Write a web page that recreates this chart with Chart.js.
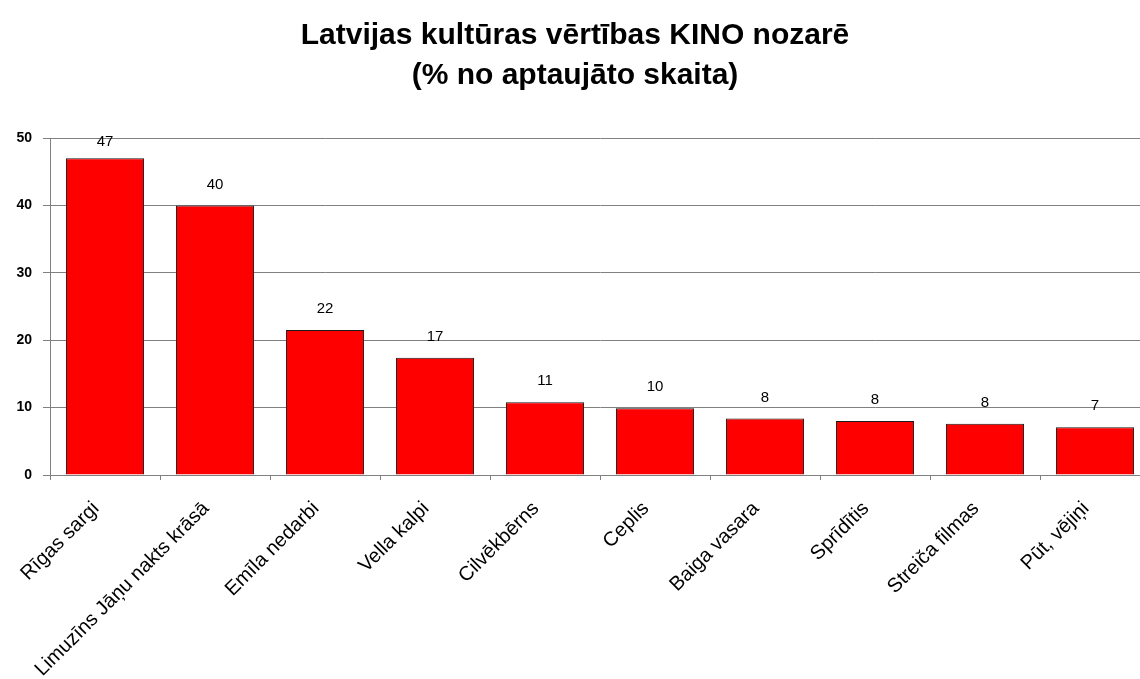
<!DOCTYPE html>
<html>
<head>
<meta charset="utf-8">
<script src="https://cdn.jsdelivr.net/npm/chart.js@4/dist/chart.umd.min.js"></script>
<style>
  html, body { margin: 0; padding: 0; background: #fff; overflow: hidden; }
  #wrap { width: 1150px; height: 679px; position: relative; }
</style>
</head>
<body>
<div id="wrap"><canvas id="c"></canvas></div>
<script>
const titleLines = ["Latvijas kultūras vērtības KINO nozarē", "(% no aptaujāto skaita)"];
const categories = ["Rīgas sargi", "Limuzīns Jāņu nakts krāsā", "Emīla nedarbi", "Vella kalpi", "Cilvēkbērns", "Ceplis", "Baiga vasara", "Sprīdītis", "Streiča filmas", "Pūt, vējiņi"];
const values = [47, 40, 21.5, 17.4, 10.8, 9.9, 8.4, 8.0, 7.6, 7.1];
const valueLabels = ["47", "40", "22", "17", "11", "10", "8", "8", "8", "7"];
const yTicks = [0, 10, 20, 30, 40, 50];

const FONT = 'Arial, "Liberation Sans", sans-serif';

const valueLabelPlugin = {
  id: 'valueLabels',
  afterDatasetsDraw(chart) {
    const ctx = chart.ctx;
    const meta = chart.getDatasetMeta(0);
    ctx.save();
    ctx.font = '15px ' + FONT;
    ctx.fillStyle = '#000';
    ctx.textAlign = 'center';
    ctx.textBaseline = 'middle';
    meta.data.forEach((bar, i) => {
      const y = Math.max(bar.y - 21, chart.chartArea.top + 4);
      ctx.fillText(valueLabels[i], bar.x, y);
    });
    ctx.restore();
  }
};

new Chart(document.getElementById('c'), {
  type: 'bar',
  data: {
    labels: categories,
    datasets: [{
      data: values,
      backgroundColor: '#ff0000',
      borderColor: '#1a1a1a',
      borderWidth: 1,
      barPercentage: 0.71,
      categoryPercentage: 1.0
    }]
  },
  options: {
    responsive: true,
    maintainAspectRatio: false,
    animation: false,
    layout: { padding: 0 },
    plugins: {
      legend: { display: false },
      tooltip: { enabled: false },
      title: {
        display: true,
        text: titleLines,
        color: '#000',
        font: { family: FONT, size: 30, weight: 'bold', lineHeight: 1.35 },
        padding: { top: 15, bottom: 42 }
      }
    },
    scales: {
      x: {
        offset: true,
        grid: {
          offset: true,
          drawOnChartArea: false,
          drawTicks: true,
          tickLength: 5,
          color: '#808080'
        },
        border: { display: true, color: '#808080', width: 1 },
        ticks: {
          color: '#000',
          font: { family: FONT, size: 20 },
          minRotation: 45,
          maxRotation: 45,
          autoSkip: false,
          padding: 17,
          labelOffset: -9
        },
        afterFit(scale) { scale.height = 204; }
      },
      y: {
        min: 0,
        max: 50,
        afterBuildTicks(scale) { scale.ticks = yTicks.map(v => ({ value: v })); },
        grid: {
          color: '#808080',
          lineWidth: 1,
          drawTicks: true,
          tickLength: 7
        },
        border: { display: true, color: '#808080', width: 1 },
        ticks: {
          color: '#000',
          font: { family: FONT, size: 14, weight: 'bold' },
          padding: 11
        },
        afterFit(scale) { scale.width = 50; }
      }
    }
  },
  plugins: [valueLabelPlugin]
});
</script>
</body>
</html>
